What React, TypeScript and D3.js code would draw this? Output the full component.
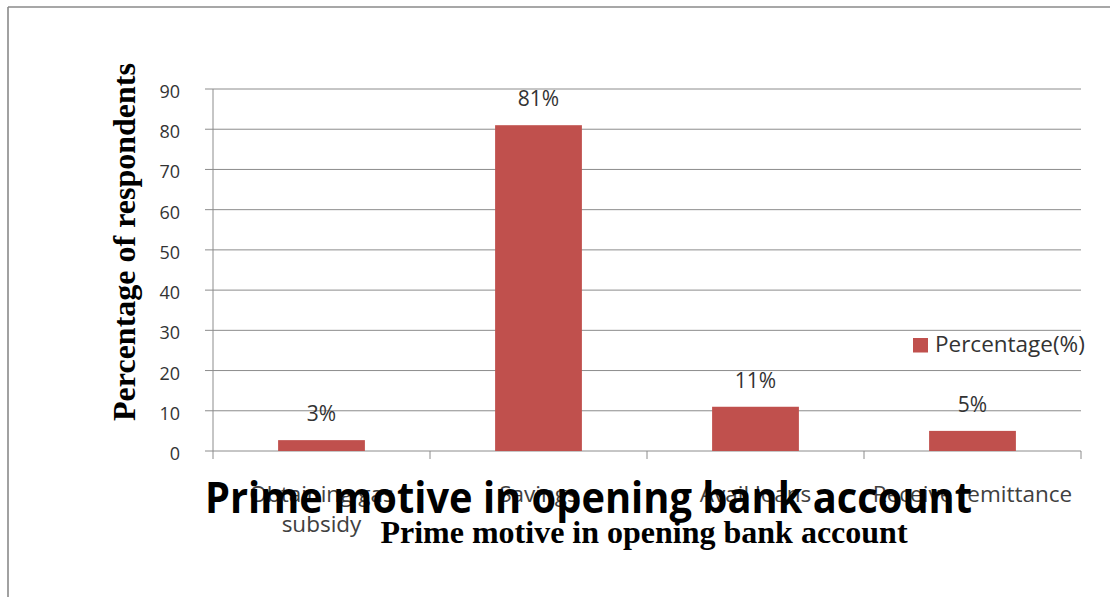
import React from "react";
import * as d3 from "d3";

const categories = ["Obtaining gas subsidy", "Savings", "Avail loans", "Receive remittance"];
const categoryLines = [["Obtaining gas", "subsidy"], ["Savings"], ["Avail loans"], ["Receive remittance"]];
const values = [2.7, 81, 11, 5];
const valueLabels = ["3%", "81%", "11%", "5%"];
const yTicks = [0, 10, 20, 30, 40, 50, 60, 70, 80, 90];
const seriesName = "Percentage(%)";
const chartTitle = "Prime motive in opening bank account";
const xTitle = "Prime motive in opening bank account";
const yTitle = "Percentage of respondents";

const W = 1110;
const H = 597;
const plot = { left: 213, right: 1081, top: 89, bottom: 451 };
const BAR = "#C0504D";
const GRID = "#8c8c8c";
const SANS = "'Open Sans', Lato, sans-serif";
const SERIF = "'Liberation Serif', 'DejaVu Serif', serif";

export default function App() {
  const x = d3.scaleBand<string>().domain(categories).range([plot.left, plot.right]).paddingInner(0).paddingOuter(0);
  const y = d3.scaleLinear().domain([0, 90]).range([plot.bottom, plot.top]);
  const bw = x.bandwidth() * 0.4;
  const edges = [...categories.map((c) => x(c) as number), plot.right];

  return (
    <svg width={W} height={H} style={{ position: "absolute", left: 0, top: 0, background: "#fff" }}>
      <rect x={0} y={0} width={W} height={H} fill="#fff" />
      {/* outer frame */}
      <line x1={8} y1={7} x2={W} y2={7} stroke="#8a8a8a" strokeWidth={1.6} />
      <line x1={8} y1={7} x2={8} y2={H} stroke="#8a8a8a" strokeWidth={1.6} />

      {/* gridlines and y ticks */}
      {yTicks.map((t) => (
        <g key={t}>
          <line x1={plot.left - 8} x2={plot.right} y1={y(t)} y2={y(t)} stroke={GRID} strokeWidth={1} />
          <text x={180} y={y(t) + 9} textAnchor="end" fontFamily={SANS} fontSize={18} fill="#333">
            {t}
          </text>
        </g>
      ))}
      <line x1={plot.left} x2={plot.left} y1={plot.top} y2={plot.bottom} stroke={GRID} strokeWidth={1} />
      {edges.map((e, i) => (
        <line key={i} x1={e} x2={e} y1={plot.bottom} y2={plot.bottom + 8} stroke={GRID} strokeWidth={1} />
      ))}

      {/* bars */}
      {categories.map((c, i) => {
        const cx = (x(c) as number) + x.bandwidth() / 2;
        return (
          <g key={c}>
            <rect x={cx - bw / 2} y={y(values[i])} width={bw} height={y(0) - y(values[i])} fill={BAR} />
            <text x={cx} y={y(values[i]) - 19} textAnchor="middle" fontFamily={SANS} fontSize={21} fill="#333">
              {valueLabels[i]}
            </text>
          </g>
        );
      })}

      {/* category labels */}
      {categories.map((c, i) => {
        const cx = (x(c) as number) + x.bandwidth() / 2;
        return (
          <text key={c} textAnchor="middle" fontFamily={SANS} fontSize={22.5} fill="#404040">
            {categoryLines[i].map((ln, j) => (
              <tspan key={j} x={cx} y={502 + j * 30}>
                {ln}
              </tspan>
            ))}
          </text>
        );
      })}

      {/* legend */}
      <rect x={913} y={338} width={15} height={14.5} fill={BAR} />
      <text x={935} y={352} fontFamily={SANS} fontSize={22.5} fill="#333">
        {seriesName}
      </text>

      {/* axis titles */}
      <text x={644} y={543} textAnchor="middle" fontFamily={SERIF} fontWeight="bold" fontSize={32} fill="#000">
        {xTitle}
      </text>
      <text
        transform={`translate(135,${242}) rotate(-90)`}
        textAnchor="middle"
        fontFamily={SERIF}
        fontWeight="bold"
        fontSize={32}
        fill="#000"
      >
        {yTitle}
      </text>

      {/* overlapping chart title */}
      <text
        x={588.5}
        y={513}
        textAnchor="middle"
        fontFamily={SANS}
        fontWeight="bold"
        fontSize={43}
        textLength={767}
        lengthAdjust="spacingAndGlyphs"
        fill="#000"
      >
        {chartTitle}
      </text>
    </svg>
  );
}
